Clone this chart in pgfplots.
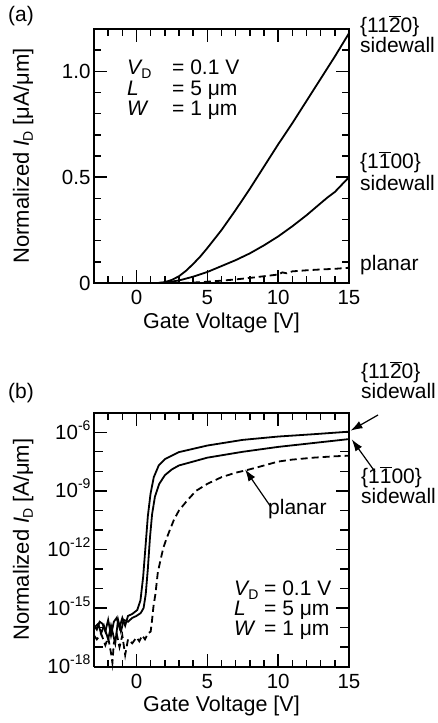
\documentclass[border=0pt]{standalone}
\usepackage{pgfplots}
\pgfplotsset{compat=1.18}
\usepackage{fontspec}
\setmainfont{Liberation Sans}
\usetikzlibrary{arrows.meta}
\newcommand{\myfs}[1]{\fontsize{#1}{#1}\selectfont}
\newcommand{\subD}{\kern-1.5pt\raisebox{-4pt}{\myfs{14}D}}
\newcommand{\tenexp}[1]{10\raisebox{9pt}{\myfs{14}#1}}
\newcommand{\ob}[1]{$\overline{\mbox{#1}}$}
\pgfplotsset{
  baseaxis/.style={
    scale only axis, width=255pt, height=254pt,
    xmin=-3, xmax=15, clip=false,
    xtick={0,5,10,15}, xticklabels={0,5,10,15},
    minor xtick={-2,-1,1,2,3,4,6,7,8,9,11,12,13,14},
    tick align=inside, major tick length=13pt, minor tick length=7pt,
    every tick/.append style={draw=black, line width=1.4pt},
    ticklabel style={font=\myfs{20.5}},
    xticklabel style={yshift=-4pt},
    yticklabel style={anchor=base east, yshift=-7pt},
    xlabel={Gate Voltage [V]},
    every axis x label/.style={at={(axis description cs:0.5,0)}, anchor=base, yshift=-45pt, font=\myfs{21.5}},
    every axis y label/.style={at={(axis description cs:-0.278,0.5)}, anchor=center, rotate=90, font=\myfs{22}},
  }
}
\begin{document}
\begin{tikzpicture}
\path (0pt,0pt) (438pt,-723pt);
% ---------------- (a) ----------------
\begin{axis}[baseaxis, at={(94pt,-283pt)}, anchor=south west,
  ymin=0, ymax=1.2, ytick={0,0.5,1.0}, yticklabels={0,0.5,1.0},
  minor ytick={0.1,0.2,0.3,0.4,0.6,0.7,0.8,0.9,1.1},
  ylabel={Normalized \textit{I}\subD{} [μA/μm]}]
\addplot[black, line width=1.8pt] coordinates {
(-3,0) (1.5,0) (2,0.004) (2.5,0.015) (3,0.032) (3.5,0.058) (4,0.09) (4.5,0.125)
(5,0.165) (6,0.25) (7,0.345) (8,0.445) (9,0.55) (10,0.655) (11,0.755)
(12,0.86) (13,0.965) (14,1.07) (15,1.18)};
\addplot[black, line width=1.8pt] coordinates {
(-3,0) (1.5,0) (2,0.002) (3,0.012) (4,0.03) (5,0.052) (6,0.08) (7,0.108)
(8,0.14) (9,0.178) (10,0.22) (11,0.268) (12,0.32) (13,0.377) (13.5,0.405)
(13.8,0.42) (14,0.43) (14.5,0.465) (15,0.5)};
\addplot[black, line width=1.8pt, dash pattern=on 7pt off 4pt] coordinates {
(-3,0) (3,0) (4,0.002) (5,0.006) (6,0.011) (7,0.017) (8,0.024) (9,0.032)
(10,0.04) (10.3,0.05) (10.6,0.046) (11,0.055) (12,0.06) (13,0.064) (14,0.067) (15,0.072)};
\end{axis}
% ---------------- (b) ----------------
\begin{axis}[baseaxis, at={(94pt,-666.7pt)}, anchor=south west,
  ymode=log, ymin=1e-18, ymax=1e-5,
  ytick={1e-18,1e-15,1e-12,1e-9,1e-6},
  yticklabels={\tenexp{-18},\tenexp{-15},\tenexp{-12},\tenexp{-9},\tenexp{-6}},
  minor ytick={1e-17,1e-16,1e-14,1e-13,1e-11,1e-10,1e-8,1e-7},
  ylabel={Normalized \textit{I}\subD{} [A/μm]}]
\addplot[black, line width=1.8pt] coordinates {
(-3.0,1.26e-16) (-2.8,7.94e-17) (-2.6,2.00e-16) (-2.4,1.58e-16) (-2.2,6.31e-17)
(-2.0,2.51e-16) (-1.8,3.98e-17) (-1.6,2.00e-16) (-1.4,3.16e-16) (-1.2,1.0e-16)
(-1.0,3.16e-16) (-0.8,1.26e-16) (-0.6,3.98e-16) (-0.3,5.01e-16) (0.05,7.94e-16)
(0.28,2.51e-15) (0.47,3.98e-14) (0.63,1.26e-12) (0.8,5.01e-11) (0.99,7.08e-10)
(1.22,5.01e-9) (1.57,2.00e-8) (2.04,4.37e-8) (2.98,9.55e-8) (5.0,2.09e-7)
(7.5,4.07e-7) (10,6.03e-7) (12.5,7.94e-7) (15,1.07e-6)};
\addplot[black, line width=1.8pt] coordinates {
(-3.0,1.0e-16) (-2.7,1.58e-16) (-2.5,5.01e-17) (-2.3,1.26e-16) (-2.0,2.51e-17)
(-1.8,1.26e-16) (-1.5,1.58e-17) (-1.3,2.51e-16) (-1.1,6.31e-17) (-0.9,2.51e-16)
(-0.6,2.00e-16) (-0.3,3.16e-16) (0.0,3.98e-16) (0.3,5.62e-16) (0.5,1.0e-15)
(0.65,5.01e-15) (0.8,1.0e-13) (0.95,3.98e-12) (1.1,6.31e-11) (1.3,5.01e-10)
(1.6,2.24e-9) (2.0,6.31e-9) (2.5,1.26e-8) (3.0,2.0e-8) (4.0,3.16e-8)
(5.0,5.01e-8) (7.5,1.0e-7) (10,1.78e-7) (12.5,2.82e-7) (15,4.47e-7)};
\addplot[black, line width=1.8pt, dash pattern=on 7pt off 4pt] coordinates {
(-3.0,3.98e-17) (-2.8,2.51e-17) (-2.5,5.01e-17) (-2.2,1.26e-17) (-2.0,3.16e-17)
(-1.8,5.01e-18) (-1.7,1.58e-18) (-1.6,1.58e-17) (-1.4,5.01e-17) (-1.2,1.0e-17)
(-1.0,3.98e-17) (-0.8,3.98e-18) (-0.6,2.51e-17) (-0.3,1.58e-17) (0.0,3.16e-17)
(0.2,2.0e-17) (0.4,3.98e-17) (0.6,2.51e-17) (0.8,5.01e-17) (1.0,6.31e-17)
(1.1,2.51e-16) (1.2,1.26e-15) (1.34,5.50e-15) (1.5,6.31e-14) (1.69,2.82e-13)
(1.9,1.26e-12) (2.16,4.37e-12) (2.63,3.16e-11) (3.0,1.0e-10) (3.57,3.16e-10)
(4.2,1.0e-9) (5.0,2.29e-9) (6.0,5.01e-9) (7.0,8.51e-9) (7.67,1.10e-8)
(8.5,1.58e-8) (9.5,2.51e-8) (10,3.16e-8) (10.5,3.55e-8) (11,3.98e-8)
(12.5,5.01e-8) (14,5.89e-8) (15,6.31e-8)};
\end{axis}
% ---------------- axis frames and tick marks ----------------
\begin{scope}[black, line width=1.4pt]
\draw (94pt,-283pt) rectangle (349pt,-29pt);
\draw (94pt,-666.7pt) rectangle (349pt,-412.7pt);
% x ticks, both panels, bottom and top
\foreach \v/\L in {0/13,5/13,10/13,15/13,-2/7,-1/7,1/7,2/7,3/7,4/7,6/7,7/7,8/7,9/7,11/7,12/7,13/7,14/7}{
  \pgfmathsetmacro\px{94+(\v+3)*255/18}
  \draw (\px pt,-283pt) -- ++(0pt,\L pt);
  \draw (\px pt,-29pt) -- ++(0pt,-\L pt);
  \draw (\px pt,-666.7pt) -- ++(0pt,\L pt);
  \draw (\px pt,-412.7pt) -- ++(0pt,-\L pt);
}
% y ticks, panel (a)
\foreach \v/\L in {0.5/13,1.0/13,0.1/7,0.2/7,0.3/7,0.4/7,0.6/7,0.7/7,0.8/7,0.9/7,1.1/7}{
  \pgfmathsetmacro\py{-283+\v*254/1.2}
  \draw (94pt,\py pt) -- ++(\L pt,0pt);
  \draw (349pt,\py pt) -- ++(-\L pt,0pt);
}
% y ticks, panel (b), exponent of ten
\foreach \e/\L in {-15/13,-12/13,-9/13,-6/13,-17/9,-16/9,-14/9,-13/9,-11/9,-10/9,-8/9,-7/9}{
  \pgfmathsetmacro\py{-666.7+(\e+18)*254/13}
  \draw (94pt,\py pt) -- ++(\L pt,0pt);
  \draw (349pt,\py pt) -- ++(-\L pt,0pt);
}
\end{scope}
% ---------------- annotations ----------------
\begin{scope}[every node/.style={inner sep=0pt, font=\myfs{21}}]
\node[anchor=base west] at (8pt,-21pt) {(a)};
\node[anchor=base west] at (8pt,-398pt) {(b)};
\node[anchor=base west] at (127pt,-74pt) {\textit{V}\subD};
\node[anchor=base west] at (127pt,-95pt) {\textit{L}};
\node[anchor=base west] at (127pt,-115pt) {\textit{W}};
\node[anchor=base west] at (172pt,-74pt) {= 0.1 V};
\node[anchor=base west] at (172pt,-95pt) {= 5 μm};
\node[anchor=base west] at (172pt,-115pt) {= 1 μm};
\node[anchor=base west] at (360pt,-32pt) {\{11\ob{2}0\}};
\node[anchor=base west] at (360pt,-52pt) {sidewall};
\node[anchor=base west] at (360pt,-168pt) {\{1\ob{1}00\}};
\node[anchor=base west] at (360pt,-190pt) {sidewall};
\node[anchor=base west] at (360pt,-270pt) {planar};
\node[anchor=base west] at (361pt,-378pt) {\{11\ob{2}0\}};
\node[anchor=base west] at (361pt,-398pt) {sidewall};
\node[anchor=base west] at (361pt,-483pt) {\{1\ob{1}00\}};
\node[anchor=base west] at (361pt,-503pt) {sidewall};
\node[anchor=base west] at (268pt,-514pt) {planar};
\node[anchor=base west] at (234pt,-595pt) {\textit{V}\subD};
\node[anchor=base west] at (234pt,-615pt) {\textit{L}};
\node[anchor=base west] at (234pt,-635pt) {\textit{W}};
\node[anchor=base west] at (264pt,-595pt) {= 0.1 V};
\node[anchor=base west] at (264pt,-615pt) {= 5 μm};
\node[anchor=base west] at (264pt,-635pt) {= 1 μm};
\end{scope}
\draw[-{Latex[length=12pt,width=8pt]}, line width=1.2pt] (378pt,-415pt) -- (350.5pt,-430.7pt);
\draw[-{Latex[length=12pt,width=8pt]}, line width=1.2pt] (375pt,-471.7pt) -- (351.7pt,-439.3pt);
\draw[-{Latex[length=12pt,width=8pt]}, line width=1.2pt] (270.7pt,-506.7pt) -- (245pt,-469.3pt);
\end{tikzpicture}
\end{document}
